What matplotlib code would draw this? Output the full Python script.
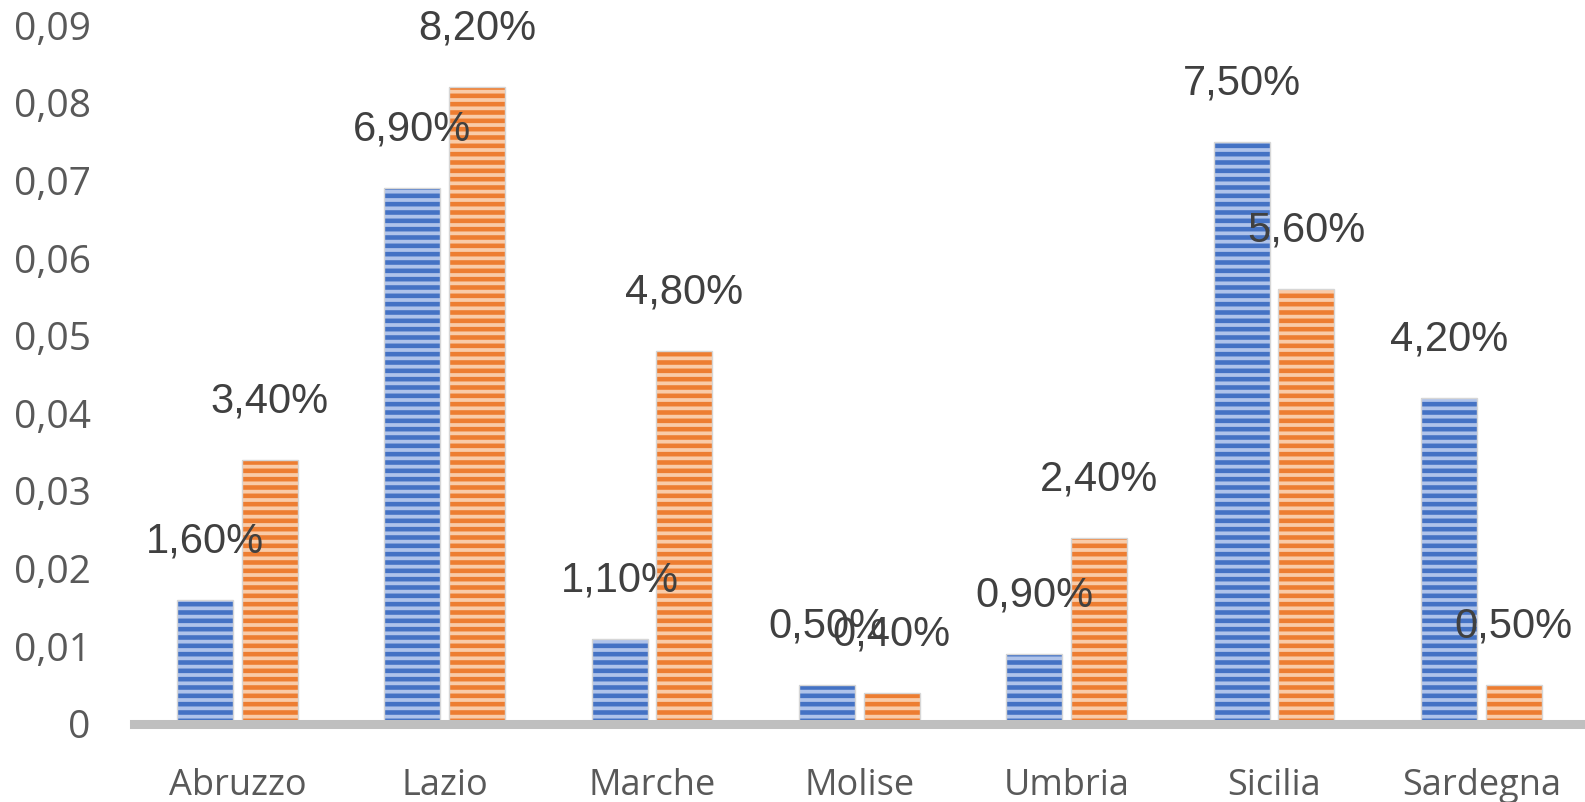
import numpy as np
import matplotlib.pyplot as plt
from matplotlib.ticker import FuncFormatter

regions = ['Abruzzo', 'Lazio', 'Marche', 'Molise', 'Umbria', 'Sicilia', 'Sardegna']
blue_vals = [0.016, 0.069, 0.011, 0.005, 0.009, 0.075, 0.042]
orange_vals = [0.034, 0.082, 0.048, 0.004, 0.024, 0.056, 0.005]

plt.rcParams['hatch.linewidth'] = 3.3

fig = plt.figure(figsize=(15.85, 8.02), dpi=100)
ax = fig.add_axes([0.0844, 0.0973, 0.9156, 0.8715])

x = np.arange(len(regions))
w = 0.27
off = 0.156

ax.bar(x - off, blue_vals, w, color='#AFC3EA', edgecolor='#4472C4', hatch='--', linewidth=0, zorder=2)
ax.bar(x + off, orange_vals, w, color='#F9CBA8', edgecolor='#ED7D31', hatch='--', linewidth=0, zorder=2)
ax.bar(x - off, blue_vals, w, fill=False, edgecolor='#d6d6d6', linewidth=1, zorder=3)
ax.bar(x + off, orange_vals, w, fill=False, edgecolor='#d6d6d6', linewidth=1, zorder=3)

def pct(v):
    return f'{v*100:.2f}%'.replace('.', ',')

for xs, vals in ((x - off, blue_vals), (x + off, orange_vals)):
    for xi, v in zip(xs, vals):
        ax.annotate(pct(v), (xi, v), xytext=(0, 42), textcoords='offset points',
                    ha='center', va='center', fontsize=30, color='#404040',
                    family='Liberation Sans', zorder=5)

ax.axhline(0, color='#BFBFBF', linewidth=6.5, zorder=4, clip_on=False)

ax.set_xlim(-0.5, len(regions) - 0.5)
ax.set_ylim(0, 0.09)
ax.set_yticks(np.arange(0, 0.0901, 0.01))
ax.yaxis.set_major_formatter(FuncFormatter(lambda v, p: '0' if abs(v) < 1e-9 else f'{v:.2f}'.replace('.', ',')))
ax.set_xticks(x)
ax.set_xticklabels(regions)
for lab in ax.get_xticklabels() + ax.get_yticklabels():
    lab.set_family('Open Sans')
ax.tick_params(axis='y', length=0, pad=31, labelsize=28, labelcolor='#595959')
ax.tick_params(axis='x', length=0, pad=32, labelsize=26, labelcolor='#595959')
for s in ax.spines.values():
    s.set_visible(False)

fig.savefig('out.png', dpi=100)
